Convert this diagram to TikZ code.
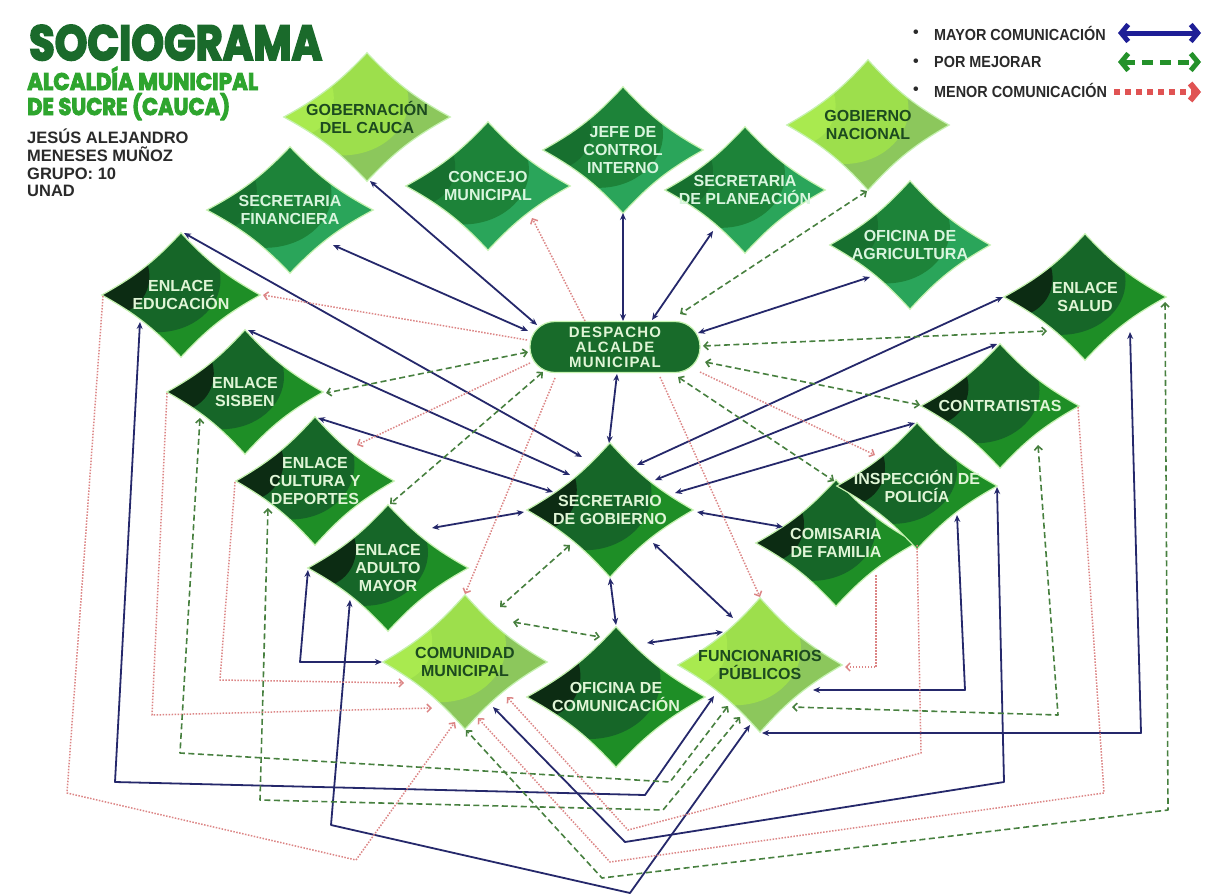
\documentclass[tikz,border=0pt]{standalone}
\usepackage{fontspec}
\usepackage{graphicx}
\setmainfont{Liberation Sans}
\newfontfamily\titlefont{Poppins}[FakeBold=4, BoldFeatures={FakeBold=4}]
\newfontfamily\spacedfont{Liberation Sans}[LetterSpace=8]
\usetikzlibrary{arrows.meta,shapes.geometric,backgrounds,calc}

\definecolor{navyL}{HTML}{25286B}
\definecolor{greenL}{HTML}{47803F}
\definecolor{redL}{HTML}{DC8585}
\definecolor{legblue}{HTML}{1E1E96}
\definecolor{leggreen}{HTML}{24912A}
\definecolor{legred}{HTML}{E05353}
\definecolor{titleDark}{HTML}{1A6A2B}
\definecolor{titleLight}{HTML}{2EA52E}
\definecolor{authorC}{HTML}{2A2A2A}
\definecolor{glow}{HTML}{C6F2B0}
\definecolor{dA}{HTML}{1E8E26}
\definecolor{dB}{HTML}{166628}
\definecolor{dC}{HTML}{0C2C13}
\definecolor{dT}{HTML}{E0F5D6}
\definecolor{mA}{HTML}{2AA55A}
\definecolor{mB}{HTML}{1D8339}
\definecolor{mC}{HTML}{17702F}
\definecolor{mT}{HTML}{D9F5DE}
\definecolor{lA}{HTML}{8CC75C}
\definecolor{lB}{HTML}{9DDF4C}
\definecolor{lC}{HTML}{A9EA4F}
\definecolor{lT}{HTML}{1C4A1F}
\definecolor{despC}{HTML}{186B2A}

\tikzset{
  dshape/.style={shape=diamond, inner sep=0pt, draw=none},
  dtext/.style={font=\fontsize{16}{18}\selectfont\bfseries, align=center, inner sep=0pt},
  dglow/.style={draw=glow, line width=1.2pt},
  bl/.style={draw=navyL, line width=1.8pt, line join=round, >={Stealth[length=7pt,width=6pt]}, <->},
  gr/.style={draw=greenL, line width=1.6pt, line join=round, dash pattern=on 6pt off 3.5pt, >={Straight Barb[length=4pt,width=8pt]}, <->},
  rd/.style={draw=redL, line width=1.5pt, line join=round, dash pattern=on 1.5pt off 1.5pt, >={Straight Barb[length=4pt,width=8pt]}, ->},
  legtxt/.style={anchor=west, inner sep=0pt, text=authorC, font=\fontsize{16}{18}\selectfont\bfseries},
  authtxt/.style={anchor=base west, inner sep=0pt, text=authorC, font=\fontsize{16.5}{18}\selectfont\bfseries},
  despbox/.style={shape=rectangle, rounded corners=25pt, minimum width=170pt, minimum height=51pt, inner sep=0pt,
     fill=despC, draw=glow, line width=1.2pt, text=dT, align=center,
     font=\fontsize{15}{15}\spacedfont\bfseries}
}

\newcommand\dnode[7]{%
  \node[dshape, minimum width={2*#4}, minimum height={2*#5}] (#1) at (#2,#3) {};
  \begin{scope}[on background layer]
    \begin{scope}
      \clip (#1.west) to[bend right=9] (#1.north) to[bend right=9] (#1.east) to[bend right=9] (#1.south) to[bend right=9] (#1.west) -- cycle;
      \fill[#6A] ([shift={(-#4,-#5)}]#1.center) rectangle ([shift={(#4,#5)}]#1.center);
      \fill[#6B] ([shift={(-0.3*#4,-0.25*#5)}]#1.center) ellipse [x radius={0.8*#4pt}, y radius={0.85*#5pt}];
      \fill[#6C] ([shift={(-0.85*#4,-0.3*#5)}]#1.center) ellipse [x radius={0.45*#4pt}, y radius={0.6*#5pt}];
    \end{scope}
    \draw[dglow] (#1.west) to[bend right=9] (#1.north) to[bend right=9] (#1.east) to[bend right=9] (#1.south) to[bend right=9] (#1.west) -- cycle;
  \end{scope}
  \node[dtext, text=#6T] (#1t) at (#1.center) {#7};
}

\begin{document}
\begin{tikzpicture}[x=1pt,y=-1pt]
\useasboundingbox (0,0) rectangle (1206,894);
\begin{scope}[on background layer]
  \fill[white] (0,0) rectangle (1206,894);
\end{scope}

% title block
\node[anchor=base west, inner sep=0pt, text=titleDark] (title) at (29,60)
  {\resizebox{293pt}{35pt}{\fontsize{50}{50}\titlefont\bfseries SOCIOGRAMA}};
\node[anchor=base west, inner sep=0pt, text=titleLight] (sub1) at (27,90)
  {\resizebox{231pt}{\height}{\fontsize{24}{24}\titlefont\bfseries ALCALDÍA MUNICIPAL}};
\node[anchor=base west, inner sep=0pt, text=titleLight] (sub2) at (27,115)
  {\resizebox{203pt}{\height}{\fontsize{24}{24}\titlefont\bfseries DE SUCRE (CAUCA)}};
\node[authtxt] (au1) at (27,143) {JESÚS ALEJANDRO};
\node[authtxt] (au2) at (27,161) {MENESES MUÑOZ};
\node[authtxt] (au3) at (27,179) {GRUPO: 10};
\node[authtxt] (au4) at (27,196) {UNAD};

% legend
\node[legtxt] (b1) at (913,34) {•};
\node[legtxt] (b2) at (913,63) {•};
\node[legtxt] (b3) at (913,91) {•};
\node[legtxt] (l1) at (934,33) {\scalebox{0.9}[1]{MAYOR COMUNICACIÓN}};
\node[legtxt] (l2) at (934,62) {\scalebox{0.9}[1]{POR MEJORAR}};
\node[legtxt] (l3) at (934,90) {\scalebox{0.9}[1]{MENOR COMUNICACIÓN}};
\coordinate (lbA) at (1118,33); \coordinate (lbB) at (1201,33);
\coordinate (lgA) at (1118,62); \coordinate (lgB) at (1201,62);
\coordinate (lrA) at (1114,92); \coordinate (lrB) at (1201,92);
\draw[legblue, line width=5pt, arrows={Straight Barb[length=7pt,width=17pt]-Straight Barb[length=7pt,width=17pt]}] (lbA) -- (lbB);
\draw[leggreen, line width=5pt, dash pattern=on 11pt off 7pt, arrows={Straight Barb[length=7pt,width=17pt]-Straight Barb[length=7pt,width=17pt]}] (lgA) -- (lgB);
\draw[legred, line width=6pt, dash pattern=on 6pt off 5pt, arrows={-Straight Barb[length=7pt,width=17pt]}] (lrA) -- (lrB);

% nodes
\dnode{gob}{367}{117}{83}{64}{l}{GOBERNACIÓN\\DEL CAUCA}
\dnode{conc}{488}{186}{82}{64}{m}{CONCEJO\\MUNICIPAL}
\dnode{jefe}{623}{150}{80}{63}{m}{JEFE DE\\CONTROL\\INTERNO}
\dnode{plan}{745}{190}{80}{63}{m}{SECRETARIA\\DE PLANEACIÓN}
\dnode{gnac}{868}{125}{81}{65}{l}{GOBIERNO\\NACIONAL}
\dnode{fin}{290}{210}{83}{63}{m}{SECRETARIA\\FINANCIERA}
\dnode{agri}{910}{245}{80}{64}{m}{OFICINA DE\\AGRICULTURA}
\dnode{edu}{181}{295}{79}{62}{d}{ENLACE\\EDUCACIÓN}
\dnode{salud}{1085}{297}{81}{63}{d}{ENLACE\\SALUD}
\dnode{sis}{245}{392}{78}{62}{d}{ENLACE\\SISBEN}
\dnode{contr}{1000}{406}{79}{62}{d}{CONTRATISTAS}
\dnode{cult}{315}{481}{79}{64}{d}{ENLACE\\CULTURA Y\\DEPORTES}
\dnode{comi}{836}{543}{80}{63}{d}{COMISARIA\\DE FAMILIA}
\dnode{insp}{917}{486}{80}{63}{d}{INSPECCIÓN DE\\POLICÍA}
\dnode{sec}{610}{510}{83}{67}{d}{SECRETARIO\\DE GOBIERNO}
\dnode{adul}{388}{568}{80}{63}{d}{ENLACE\\ADULTO\\MAYOR}
\dnode{comu}{465}{662}{82}{67}{l}{COMUNIDAD\\MUNICIPAL}
\dnode{ofi}{616}{697}{89}{70}{d}{OFICINA DE\\COMUNICACIÓN}
\dnode{func}{760}{665}{82}{67}{l}{FUNCIONARIOS\\PÚBLICOS}
\node[despbox] (desp) at (615,347) {DESPACHO\\ALCALDE\\MUNICIPAL};

% blue connectors
\draw[bl] ($(gob)+(3,64)$) -- ($(desp)+(-78,-22)$);
\draw[bl] ($(fin)+(43,35)$) -- ($(desp)+(-87,-16)$);
\draw[bl] ($(jefe)+(0,63)$) -- ($(desp)+(8,-26)$);
\draw[bl] ($(plan)+(-32,41)$) -- ($(desp)+(37,-27)$);
\draw[bl] ($(agri)+(-40,32)$) -- ($(desp)+(83,-14)$);
\draw[bl] ($(desp)+(2,27)$) -- ($(sec)+(-1,-67)$);
\draw[bl] ($(edu)+(3,-62)$) -- ($(sec)+(-28,-53)$);
\draw[bl] ($(sis)+(3,-62)$) -- ($(sec)+(-40,-35)$);
\draw[bl] ($(cult)+(3,-63)$) -- ($(sec)+(-57,-18)$);
\draw[bl] ($(adul)+(44,-40)$) -- ($(sec)+(-86,2)$);
\draw[bl] ($(salud)+(-82,0)$) -- ($(sec)+(27,-45)$);
\draw[bl] ($(contr)+(-3,-62)$) -- ($(sec)+(45,-30)$);
\draw[bl] ($(insp)+(-2,-63)$) -- ($(sec)+(65,-17)$);
\draw[bl] ($(sec)+(87,2)$) -- ($(comi)+(-53,-16)$);
\draw[bl] ($(sec)+(0,68)$) -- ($(ofi)+(0,-72)$);
\draw[bl] ($(sec)+(43,33)$) -- ($(func)+(-27,-47)$);
\draw[bl] ($(ofi)+(31,-54)$) -- ($(func)+(-37,-33)$);
\draw[bl] ($(adul)+(-80,2)$) -- (300,662) -- ($(comu)+(-83,0)$);
\draw[bl] ($(adul)+(-38,32)$) -- (331,825) -- (630,893) -- ($(func)+(-10,60)$);
\draw[bl] ($(edu)+(-41,27)$) -- (115,782) -- (645,795) -- ($(func)+(-46,31)$);
\draw[bl] ($(salud)+(45,35)$) -- (1141,733) -- ($(func)+(2,68)$);
\draw[bl] ($(insp)+(80,1)$) -- (1004,782) -- (625,842) -- ($(comu)+(28,45)$);
\draw[bl] ($(insp)+(40,29)$) -- (965,690) -- ($(func)+(53,25)$);

% green connectors
\draw[gr] ($(gnac)+(-1,66)$) -- ($(desp)+(65,-33)$);
\draw[gr] ($(desp)+(88,-1)$) -- ($(salud)+(-38,34)$);
\draw[gr] ($(desp)+(90,15)$) -- ($(contr)+(-80,-1)$);
\draw[gr] ($(desp)+(63,30)$) -- ($(comi)+(-2,-62)$);
\draw[gr] ($(desp)+(-87,5)$) -- ($(sis)+(81,1)$);
\draw[gr] ($(desp)+(-72,25)$) -- ($(adul)+(2,-64)$);
\draw[gr] ($(sec)+(-40,35)$) -- ($(comu)+(35,-55)$);
\draw[gr] ($(comu)+(48,-40)$) -- ($(ofi)+(-16,-60)$);
\draw[gr] ($(sis)+(-45,26)$) -- (180,753) -- (670,782) -- ($(func)+(-32,41)$);
\draw[gr] ($(cult)+(-47,27)$) -- (260,800) -- (663,810) -- ($(func)+(-20,52)$);
\draw[gr] ($(salud)+(80,5)$) -- (1168,810) -- (602,878) -- ($(comu)+(1,68)$);
\draw[gr] ($(contr)+(38,39)$) -- (1058,715) -- ($(func)+(32,42)$);

% red connectors
\draw[rd] ($(desp)+(-30,-26)$) -- ($(conc)+(44,32)$);
\draw[rd] ($(desp)+(-88,-7)$) -- ($(edu)+(82,0)$);
\draw[rd] ($(desp)+(-85,16)$) -- ($(cult)+(42,-36)$);
\draw[rd] ($(desp)+(-60,31)$) -- ($(comu)+(0,-68)$);
\draw[rd] ($(desp)+(45,30)$) -- ($(func)+(0,-68)$);
\draw[rd] ($(desp)+(85,25)$) -- ($(insp)+(-42,-31)$);
\draw[rd] ($(edu)+(-78,1)$) -- (67,793) -- (356,860) -- ($(comu)+(-10,60)$);
\draw[rd] ($(sis)+(-78,1)$) -- (152,715) -- ($(comu)+(-33,46)$);
\draw[rd] ($(cult)+(-80,1)$) -- (220,680) -- ($(comu)+(-61,21)$);
\draw[rd] ($(contr)+(78,1)$) -- (1104,793) -- (610,862) -- ($(comu)+(13,56)$);
\draw[rd] ($(comi)+(81,2)$) -- (921,753) -- (628,830) -- ($(comu)+(42,35)$);
\draw[rd] ($(comi)+(40,32)$) -- (876,667) -- ($(func)+(85,2)$);
\end{tikzpicture}
\end{document}
